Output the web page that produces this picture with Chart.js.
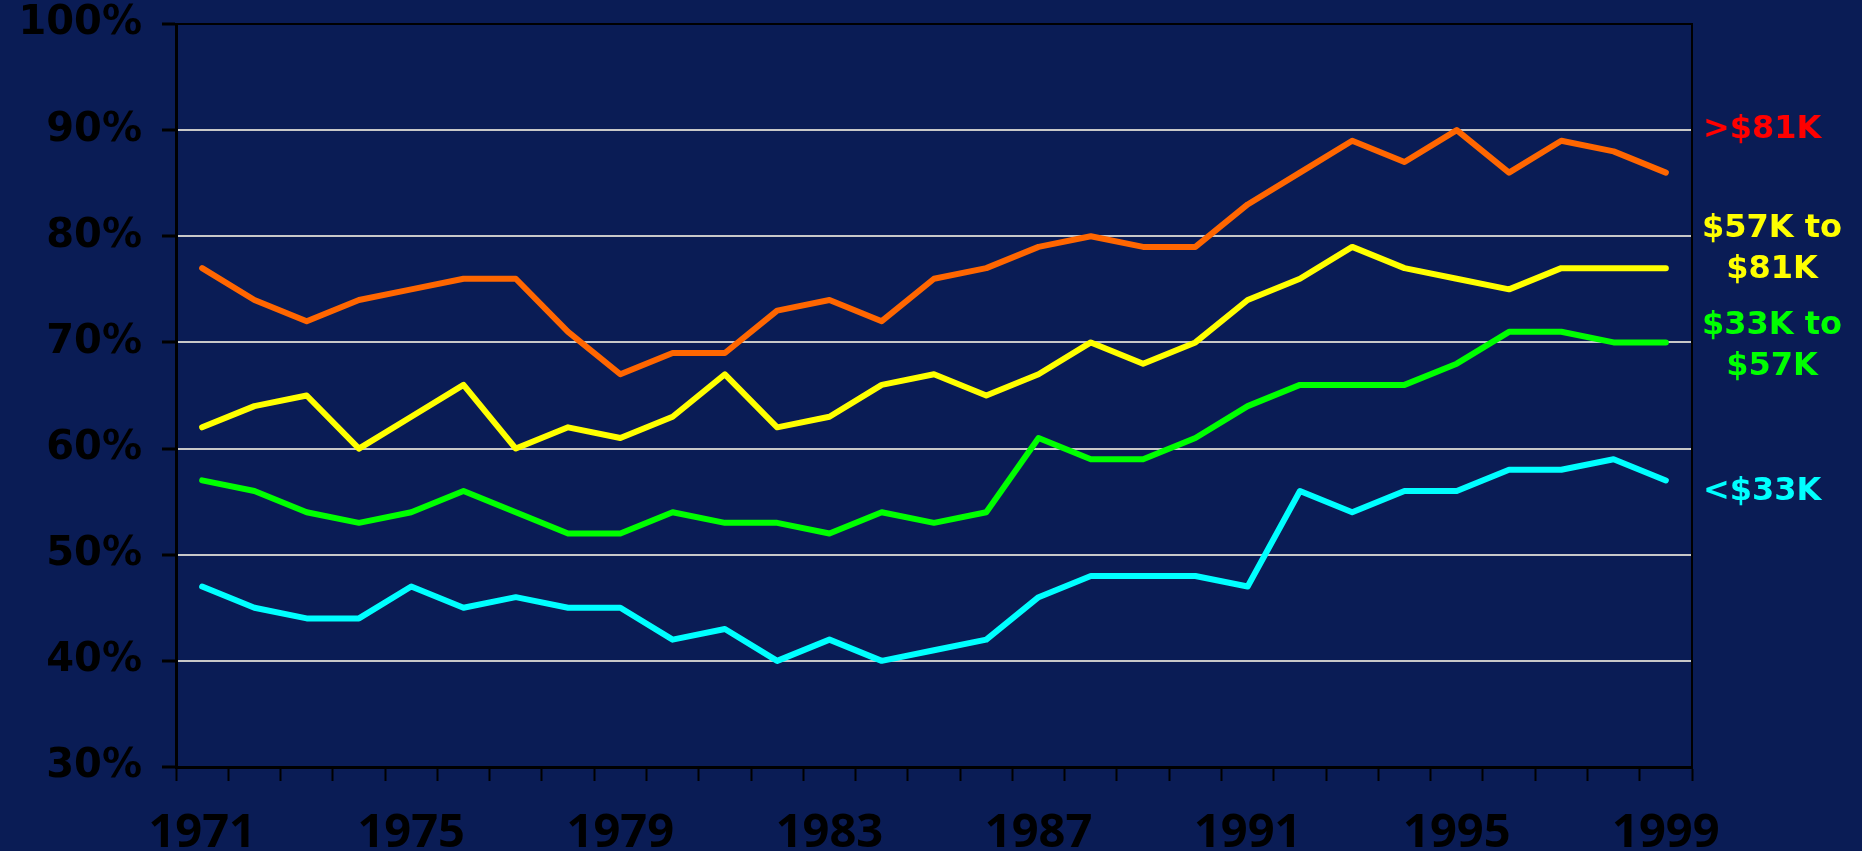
<!DOCTYPE html>
<html>
<head>
<meta charset="utf-8">
<script src="https://cdn.jsdelivr.net/npm/chart.js@4/dist/chart.umd.min.js"></script>
<style>
  html, body { margin: 0; padding: 0; background: #0A1C55; overflow: hidden; }
  #wrap { width: 1862px; height: 851px; }
</style>
</head>
<body>
<div id="wrap"><canvas id="lineChart" width="1862" height="851"></canvas></div>
<script>
const years = ['1971', '1972', '1973', '1974', '1975', '1976', '1977', '1978', '1979', '1980',
  '1981', '1982', '1983', '1984', '1985', '1986', '1987', '1988', '1989', '1990',
  '1991', '1992', '1993', '1994', '1995', '1996', '1997', '1998', '1999'];

// percent of each income group
const over81k = [77, 74, 72, 74, 75, 76, 76, 71, 67, 69, 69, 73, 74, 72, 76,
  77, 79, 80, 79, 79, 83, 86, 89, 87, 90, 86, 89, 88, 86];
const from57to81k = [62, 64, 65, 60, 63, 66, 60, 62, 61, 63, 67, 62, 63, 66, 67,
  65, 67, 70, 68, 70, 74, 76, 79, 77, 76, 75, 77, 77, 77];
const from33to57k = [57, 56, 54, 53, 54, 56, 54, 52, 52, 54, 53, 53, 52, 54, 53,
  54, 61, 59, 59, 61, 64, 66, 66, 66, 68, 71, 71, 70, 70];
const under33k = [47, 45, 44, 44, 47, 45, 46, 45, 45, 42, 43, 40, 42, 40, 41,
  42, 46, 48, 48, 48, 47, 56, 54, 56, 56, 58, 58, 59, 57];

const yTicks = [30, 40, 50, 60, 70, 80, 90, 100];

// labels at the right of the plot
const sideLabels = [['>$81K'], ['$57K to', '$81K'], ['$33K to', '$57K'], ['<$33K']];
const sideLabelAt = [90, 78.75, 69.6, 55.9];
const sideColors = ['#FF0000', '#FFFF00', '#00FF00', '#00FFFF'];

const lineColors = ['#FF6600', '#FFFF00', '#00FF00', '#00FFFF'];

Chart.defaults.font.family = "'DejaVu Sans', sans-serif";
Chart.defaults.font.weight = 'bold';
Chart.defaults.color = '#000000';

// black frame on top and right of the plot + the labels at the right
const framePlugin = {
  id: 'frame',
  beforeDatasetsDraw(chart) {
    const a = chart.chartArea;
    const ctx = chart.ctx;
    ctx.save();
    ctx.strokeStyle = '#000000';
    ctx.lineWidth = 2;
    ctx.beginPath();
    ctx.moveTo(a.left, a.top);
    ctx.lineTo(a.right, a.top);
    ctx.lineTo(a.right, a.bottom);
    ctx.stroke();
    ctx.restore();
  },
  afterDatasetsDraw(chart) {
    const ctx = chart.ctx;
    const a = chart.chartArea;
    const y = chart.scales.y;
    ctx.save();
    ctx.font = "bold 32px 'DejaVu Sans'";
    ctx.textBaseline = 'middle';
    sideLabels.forEach(function (lines, i) {
      ctx.fillStyle = sideColors[i];
      const cy = y.getPixelForValue(sideLabelAt[i]);
      const lh = 41;
      const y0 = cy - (lines.length - 1) * lh / 2;
      lines.forEach(function (txt, j) {
        if (lines.length > 1) {
          ctx.textAlign = 'center';
          ctx.fillText(txt, a.right + 80, y0 + j * lh);
        } else {
          ctx.textAlign = 'left';
          ctx.fillText(txt, a.right + 11, y0 + j * lh);
        }
      });
    });
    ctx.restore();
  }
};

function makeSet(label, data, color) {
  return {
    label: label,
    data: data,
    borderColor: color,
    backgroundColor: color,
    borderWidth: 6,
    borderCapStyle: 'round',
    borderJoinStyle: 'round',
    pointRadius: 0,
    tension: 0,
    fill: false
  };
}

new Chart(document.getElementById('lineChart'), {
  type: 'line',
  data: {
    labels: years,
    datasets: [
      makeSet('>$81K', over81k, lineColors[0]),
      makeSet('$57K to $81K', from57to81k, lineColors[1]),
      makeSet('$33K to $57K', from33to57k, lineColors[2]),
      makeSet('<$33K', under33k, lineColors[3])
    ]
  },
  options: {
    responsive: false,
    animation: false,
    layout: { padding: { top: 24, right: 170, left: 0, bottom: 0 } },
    plugins: {
      legend: { display: false },
      tooltip: { enabled: false }
    },
    scales: {
      x: {
        offset: true,
        afterFit: function (s) { s.height = 84; },
        border: { color: '#000000', width: 3 },
        grid: {
          offset: true,
          drawOnChartArea: false,
          drawTicks: true,
          tickLength: 14,
          tickColor: '#000000',
          tickWidth: 2
        },
        ticks: {
          autoSkip: false,
          maxRotation: 0,
          minRotation: 0,
          padding: 24,
          color: '#000000',
          font: { family: "'Open Sans'", size: 47, weight: 'bold' },
          callback: function (v, i) { return i % 4 === 0 ? years[i] : ''; }
        }
      },
      y: {
        min: 30,
        max: 100,
        afterFit: function (s) { s.width = 176; s.paddingTop = 0; s.paddingBottom = 0; },
        afterBuildTicks: function (s) { s.ticks = yTicks.map(function (v) { return { value: v }; }); },
        border: { color: '#000000', width: 3 },
        grid: {
          color: function (c) {
            return (c.tick && (c.tick.value === 100 || c.tick.value === 30)) ? 'rgba(0,0,0,0)' : '#C8C8C8';
          },
          lineWidth: 2,
          tickLength: 14,
          tickColor: '#000000',
          tickWidth: 3
        },
        ticks: {
          padding: 20,
          color: '#000000',
          font: { size: 40, weight: 'bold', lineHeight: 1.2 },
          callback: function (v) { return v + '%'; }
        }
      }
    }
  },
  plugins: [framePlugin]
});
</script>
</body>
</html>
